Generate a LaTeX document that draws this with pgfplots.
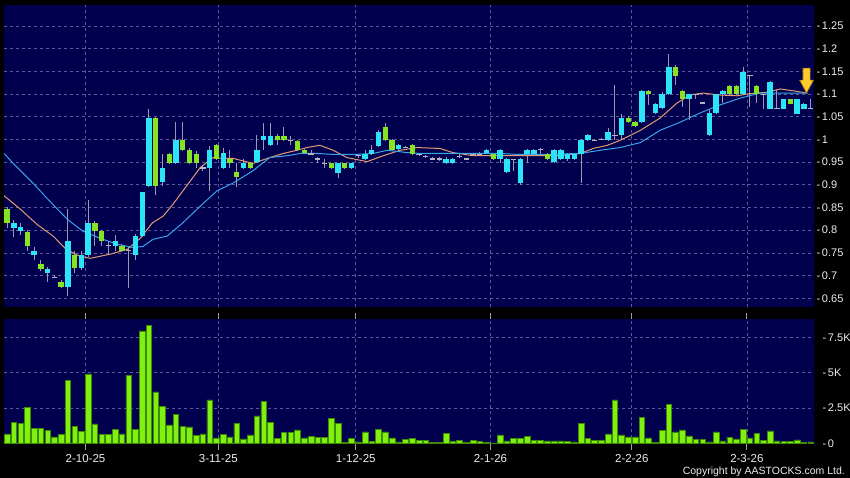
\documentclass[border=0pt]{standalone}
\usepackage{fontspec}
\setmainfont{Liberation Sans}
\usepackage{pgfplots}
\usepackage{pgfplotstable}
\pgfplotsset{compat=1.18}

\definecolor{navy}{HTML}{00004F}
\definecolor{gridc}{HTML}{5A5A96}
\definecolor{cyanc}{HTML}{2CE4F8}
\definecolor{greenc}{HTML}{84E424}
\definecolor{wickc}{HTML}{9A9AAA}
\definecolor{dojic}{HTML}{B4B4C4}
\definecolor{volg}{HTML}{80F010}
\definecolor{volgd}{HTML}{3E8A00}
\definecolor{maorange}{HTML}{E49A72}
\definecolor{mablue}{HTML}{3AA4EA}
\definecolor{arrowc}{HTML}{FFCC2E}
\definecolor{arrowd}{HTML}{9A6A00}
\definecolor{labc}{HTML}{EDEDED}

% x = trading day index; t: 0 cyan body, 1 green body, 2 doji
\pgfplotstableread{
x lo hi bot top t
0 0.805 0.850 0.816 0.846 1
1 0.785 0.822 0.805 0.816 0
2 0.790 0.815 0.798 0.807 0
3 0.755 0.800 0.766 0.796 1
4 0.735 0.764 0.746 0.755 0
5 0.710 0.735 0.715 0.726 1
6 0.685 0.720 0.705 0.715 0
7 0.694 0.702 0.696 0.696 2
8 0.672 0.690 0.675 0.686 1
9 0.656 0.846 0.675 0.777 0
10 0.705 0.755 0.716 0.746 1
11 0.712 0.755 0.716 0.746 0
12 0.742 0.866 0.746 0.816 0
13 0.766 0.820 0.798 0.816 1
14 0.766 0.800 0.777 0.798 1
15 0.746 0.777 0.766 0.766 2
16 0.755 0.790 0.766 0.777 0
17 0.752 0.770 0.755 0.766 1
18 0.673 0.766 0.755 0.755 2
19 0.735 0.792 0.746 0.787 0
20 0.785 0.885 0.787 0.885 0
21 0.895 1.068 0.897 1.048 0
22 0.878 1.050 0.897 1.048 1
23 0.897 0.967 0.907 0.937 0
24 0.945 0.970 0.948 0.968 1
25 0.946 1.038 0.948 0.998 0
26 0.975 1.038 0.977 0.998 1
27 0.946 0.980 0.948 0.977 1
28 0.937 0.975 0.948 0.968 1
29 0.930 0.944 0.937 0.937 2
30 0.887 0.985 0.937 0.977 0
31 0.955 0.990 0.957 0.988 1
32 0.935 0.980 0.937 0.970 0
33 0.937 0.977 0.947 0.957 1
34 0.896 0.947 0.918 0.929 1
35 0.935 0.957 0.937 0.947 0
36 0.935 0.949 0.937 0.947 1
37 0.947 1.009 0.950 0.977 0
38 0.977 1.036 0.998 1.007 0
39 0.985 1.037 0.988 1.007 0
40 0.988 1.012 0.998 1.007 1
41 0.996 1.027 0.998 1.007 1
42 0.988 1.007 0.998 0.998 2
43 0.975 0.998 0.977 0.996 1
44 0.968 0.979 0.970 0.977 1
45 0.966 0.977 0.968 0.968 2
46 0.947 0.962 0.957 0.957 2
47 0.937 0.957 0.947 0.947 2
48 0.935 0.949 0.937 0.947 1
49 0.916 0.949 0.927 0.947 0
50 0.935 0.949 0.937 0.947 1
51 0.935 0.949 0.937 0.947 0
52 0.960 0.968 0.964 0.964 2
53 0.955 0.977 0.957 0.968 0
54 0.965 0.987 0.967 0.977 0
55 0.983 1.020 0.985 1.016 0
56 0.996 1.037 0.998 1.027 1
57 0.974 1.000 0.976 0.998 1
58 0.976 0.990 0.978 0.988 0
59 0.980 0.985 0.982 0.982 2
60 0.966 0.990 0.968 0.988 1
61 0.964 0.970 0.966 0.966 2
62 0.960 0.966 0.962 0.962 2
63 0.955 0.962 0.957 0.957 2
64 0.953 0.962 0.957 0.957 2
65 0.946 0.962 0.948 0.957 0
66 0.946 0.959 0.948 0.957 0
67 0.960 0.967 0.962 0.962 2
68 0.955 0.959 0.957 0.957 2
69 0.964 0.970 0.966 0.966 2
70 0.965 0.972 0.967 0.967 2
71 0.968 0.979 0.970 0.977 0
72 0.955 0.969 0.957 0.967 1
73 0.947 0.979 0.957 0.977 0
74 0.927 0.959 0.929 0.957 0
75 0.930 0.957 0.955 0.955 2
76 0.900 0.959 0.905 0.957 0
77 0.948 0.979 0.967 0.977 0
78 0.965 0.979 0.967 0.977 0
79 0.968 0.980 0.977 0.977 2
80 0.955 0.969 0.957 0.967 1
81 0.948 0.979 0.950 0.977 0
82 0.955 0.979 0.957 0.977 0
83 0.952 0.969 0.957 0.967 0
84 0.955 0.969 0.957 0.967 0
85 0.905 1.000 0.967 0.998 0
86 0.996 1.011 0.998 1.009 0
87 0.996 1.000 0.998 0.998 2
88 0.998 1.002 1.000 1.000 2
89 0.996 1.025 0.998 1.016 0
90 0.998 1.120 1.008 1.008 2
91 1.000 1.055 1.009 1.048 0
92 1.036 1.052 1.038 1.048 1
93 1.027 1.040 1.029 1.038 1
94 1.036 1.109 1.038 1.107 0
95 1.075 1.109 1.099 1.107 1
96 1.055 1.081 1.058 1.079 0
97 1.068 1.105 1.070 1.099 0
98 1.097 1.189 1.099 1.159 0
99 1.120 1.163 1.140 1.159 1
100 1.072 1.109 1.089 1.107 1
101 1.042 1.100 1.089 1.099 0
102 1.088 1.101 1.099 1.099 2
103 1.078 1.082 1.080 1.080 2
104 1.007 1.065 1.009 1.058 0
105 1.056 1.101 1.058 1.099 0
106 1.080 1.109 1.099 1.107 0
107 1.097 1.120 1.099 1.118 1
108 1.097 1.120 1.099 1.118 1
109 1.097 1.159 1.099 1.148 0
110 1.071 1.142 1.140 1.140 2
111 1.080 1.120 1.101 1.118 1
112 1.066 1.101 1.099 1.099 2
113 1.066 1.129 1.068 1.127 0
114 1.066 1.109 1.068 1.068 2
115 1.066 1.090 1.068 1.088 0
116 1.077 1.090 1.079 1.088 1
117 1.055 1.090 1.057 1.088 0
118 1.066 1.081 1.068 1.079 0
119 1.066 1.088 1.068 1.068 2
}\candles

% volume in thousands
\pgfplotstableread{
x v
0 0.66
1 1.49
2 1.39
3 2.55
4 1.06
5 1.04
6 0.94
7 0.45
8 0.64
9 4.46
10 1.20
11 0.85
12 4.91
13 1.37
14 0.61
15 0.64
16 0.97
17 0.66
18 4.82
19 0.97
20 7.96
21 8.36
22 3.64
23 2.62
24 1.30
25 2.05
26 1.20
27 1.16
28 0.57
29 0.66
30 3.07
31 0.38
32 0.64
33 0.45
34 1.39
35 0.31
36 0.59
37 1.94
38 2.97
39 1.49
40 0.35
41 0.76
42 0.76
43 0.95
44 0.38
45 0.50
46 0.43
47 0.43
48 1.79
49 1.40
50 0.07
51 0.33
52 0.10
53 0.81
54 0.12
55 1.00
56 0.81
57 0.38
58 0.10
59 0.29
60 0.36
61 0.19
62 0.21
63 0.05
64 0.07
65 0.71
66 0.14
67 0.21
68 0.07
69 0.21
70 0.14
71 0.07
72 0.02
73 0.60
74 0.17
75 0.33
76 0.33
77 0.50
78 0.21
79 0.21
80 0.17
81 0.17
82 0.17
83 0.12
84 0.10
85 1.40
86 0.33
87 0.21
88 0.21
89 0.67
90 3.07
91 0.60
92 0.45
93 0.45
94 1.81
95 0.38
96 0.07
97 0.93
98 2.76
99 0.81
100 0.95
101 0.52
102 0.29
103 0.26
104 0.10
105 0.81
106 0.17
107 0.43
108 0.31
109 0.98
110 0.38
111 0.69
112 0.21
113 0.88
114 0.17
115 0.14
116 0.12
117 0.24
118 0.05
119 0.10
}\volume

\pgfdeclareplotmark{dnarrow}{%
  \pgfpathmoveto{\pgfpoint{0pt}{0pt}}%
  \pgfpathlineto{\pgfpoint{7pt}{13pt}}%
  \pgfpathlineto{\pgfpoint{3.6pt}{13pt}}%
  \pgfpathlineto{\pgfpoint{3.6pt}{25pt}}%
  \pgfpathlineto{\pgfpoint{-3.6pt}{25pt}}%
  \pgfpathlineto{\pgfpoint{-3.6pt}{13pt}}%
  \pgfpathlineto{\pgfpoint{-7pt}{13pt}}%
  \pgfpathclose
  \pgfusepathqfillstroke}

\pgfplotsset{
  /pgf/number format/assume math mode=true,
  panel/.style={
    scale only axis, width=810bp,
    xmin=-0.47, xmax=119.5,
    axis background/.style={fill=navy},
    axis line style={draw=none},
    grid=major,
    major grid style={gridc, line width=0.7bp, dash pattern=on 3bp off 3bp},
    xtick={11.6,31.28,51.63,71.58,92.52,109.56},
    ytick style={draw=none},
    yticklabel pos=right,
    ticklabel style={font=\fontsize{11bp}{13bp}\selectfont, text=labc},
    yticklabel style={anchor=west, xshift=-1bp},
  },
}

\begin{document}
\begin{tikzpicture}
\useasboundingbox (0,0) rectangle (850bp,478bp);
\fill[black] (0,0) rectangle (850bp,478bp);

\begin{axis}[panel,
  at={(4bp,171.3bp)}, anchor=south west, height=301.7bp,
  ymin=0.6315, ymax=1.296,
  ytick={0.65,0.7,0.75,0.8,0.85,0.9,0.95,1,1.05,1.1,1.15,1.2,1.25},
  yticklabel={-\kern1.8bp\pgfmathprintnumber[fixed]{\tick}},
  xticklabels={}, xtick style={draw=none},
]
% wicks
\addplot[draw=none, mark=none,
  error bars/.cd, y dir=both, y explicit, error mark=none,
  error bar style={draw=wickc, line width=1bp}]
  table[x=x, y expr={(\thisrow{lo}+\thisrow{hi})/2},
        y error expr={(\thisrow{hi}-\thisrow{lo})/2}] {\candles};
% moving averages
\addplot[maorange, line width=1bp] coordinates {
(-0.47,0.876) (1.9,0.847) (4.4,0.813) (6.8,0.787) (8.6,0.760) (10.5,0.744)
(12.3,0.738) (15.2,0.747) (17.8,0.758) (19.7,0.782) (21.5,0.816) (23.1,0.831)
(24.6,0.858) (26.6,0.898) (28.6,0.938) (30.5,0.960) (32.0,0.958) (33.5,0.958)
(36.4,0.947) (38.9,0.960) (40.9,0.969) (42.9,0.976) (44.4,0.982) (46.3,0.987)
(48.3,0.976) (50.3,0.960) (53.3,0.951) (55.7,0.964) (58.2,0.976) (60.7,0.982)
(64.1,0.980) (66.0,0.971) (69.0,0.964) (72.6,0.964) (77.9,0.964) (81.5,0.964)
(84.9,0.969) (86.8,0.980) (88.9,0.987) (90.8,0.998) (93.8,1.020) (96.7,1.047)
(99.2,1.080) (101.2,1.098) (103.1,1.102) (105.2,1.098) (108.1,1.096) (109.6,1.100)
(112.6,1.104) (114.5,1.111) (116.4,1.107) (118.5,1.102)};
\addplot[mablue, line width=1bp] coordinates {
(-0.47,0.969) (0.9,0.947) (3.8,0.904) (6.3,0.864) (8.9,0.824) (11.2,0.798)
(13.8,0.782) (16.3,0.769) (18.6,0.762) (20.1,0.764) (21.6,0.780) (23.7,0.787)
(26.0,0.816) (28.6,0.853) (31.1,0.887) (33.5,0.904) (36.4,0.931) (38.9,0.960)
(41.5,0.964) (43.4,0.969) (45.9,0.969) (48.3,0.967) (51.8,0.967) (54.2,0.969)
(56.3,0.976) (59.2,0.971) (61.2,0.969) (64.6,0.969) (68.1,0.969) (73.0,0.969)
(75.4,0.967) (79.9,0.967) (84.9,0.969) (87.8,0.976) (90.8,0.982) (93.8,0.993)
(96.7,1.020) (99.7,1.038) (102.6,1.058) (105.6,1.076) (108.6,1.091) (111.5,1.102)
(114.0,1.102) (116.4,1.102) (118.5,1.102)};
% bodies
\addplot[draw=none, mark=none,
  restrict expr to domain={\thisrow{t}}{-0.5:0.5},
  error bars/.cd, y dir=both, y explicit, error mark=none,
  error bar style={draw=cyanc, line width=5.4bp}]
  table[x=x, y expr={(\thisrow{bot}+\thisrow{top})/2},
        y error expr={(\thisrow{top}-\thisrow{bot})/2}] {\candles};
\addplot[draw=none, mark=none,
  restrict expr to domain={\thisrow{t}}{0.5:1.5},
  error bars/.cd, y dir=both, y explicit, error mark=none,
  error bar style={draw=greenc, line width=5.4bp}]
  table[x=x, y expr={(\thisrow{bot}+\thisrow{top})/2},
        y error expr={(\thisrow{top}-\thisrow{bot})/2}] {\candles};
\addplot[draw=none, mark=none,
  restrict expr to domain={\thisrow{t}}{1.5:2.5},
  error bars/.cd, x dir=both, x fixed=0.4, error mark=none,
  error bar style={draw=dojic, line width=1.2bp}]
  table[x=x, y=bot] {\candles};
% latest-price marker
\addplot[only marks, mark=dnarrow,
  mark options={fill=arrowc, draw=arrowd, line width=0.6pt}]
  coordinates {(118.4,1.102)};
\end{axis}

\begin{axis}[panel,
  at={(4bp,34bp)}, anchor=south west, height=125bp,
  ymin=-0.05, ymax=8.80,
  ytick={0,2.5,5,7.5},
  yticklabels={{-\kern1.8bp 0},{-\kern1.8bp 2.5K},{-\kern1.8bp 5K},{-\kern1.8bp 7.5K}},
  xticklabels={2-10-25,3-11-25,1-12-25,2-1-26,2-2-26,2-3-26},
  tick align=outside, major tick length=6bp,
  xtick style={draw=wickc, line width=0.8bp},
  xticklabel style={yshift=-1bp, font=\fontsize{11.5bp}{13bp}\selectfont},
]
\addplot[ybar, bar width=5.6bp, bar shift=0pt, fill=volg, draw=volgd, line width=0.6bp]
  table[x=x, y=v] {\volume};
\end{axis}

\node[anchor=base east, inner sep=0, text=labc, font=\fontsize{10.5bp}{12bp}\selectfont]
  at (845bp,4bp) {Copyright by AASTOCKS.com Ltd.};
\end{tikzpicture}
\end{document}
